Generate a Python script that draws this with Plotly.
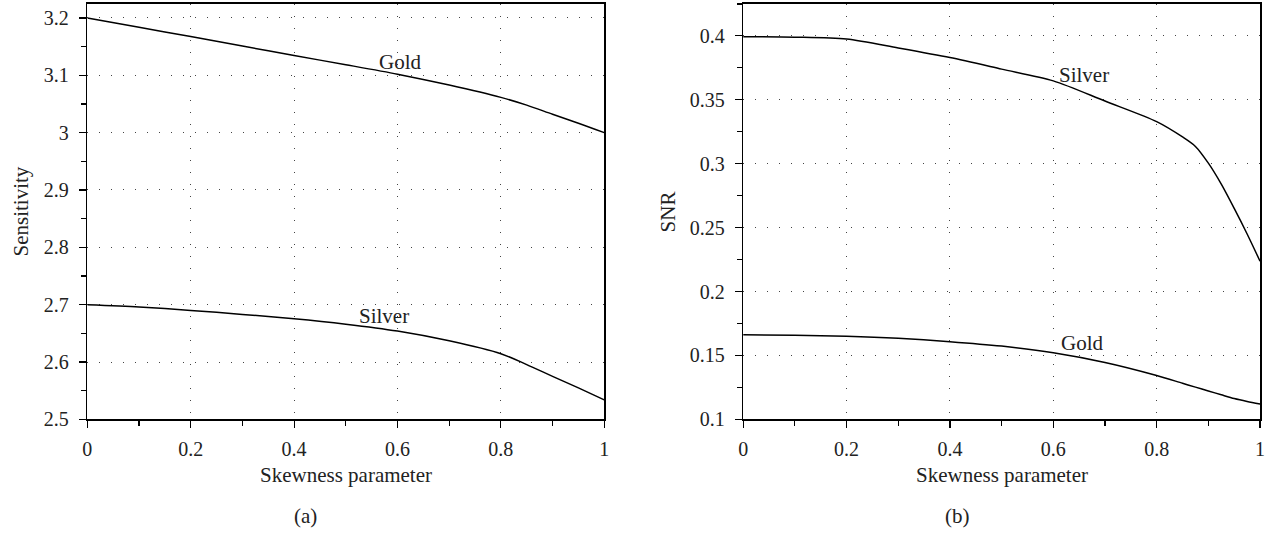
import plotly.graph_objects as go

# ---- data ----
skew = [0.0, 0.1, 0.2, 0.3, 0.4, 0.5, 0.6, 0.7, 0.8, 0.85, 0.9, 0.95, 1.0]
sens_gold = [3.200, 3.1838, 3.1675, 3.151, 3.1345, 3.1185, 3.102, 3.083, 3.0615, 3.048, 3.032, 3.0165, 3.000]
sens_silver = [2.700, 2.696, 2.690, 2.683, 2.6755, 2.666, 2.654, 2.637, 2.6145, 2.5955, 2.575, 2.5548, 2.534]

skew_b = [0.0, 0.1, 0.2, 0.3, 0.4, 0.5, 0.6, 0.7, 0.8, 0.85, 0.875, 0.9, 0.925, 0.95, 0.975, 1.0]
snr_silver = [0.3993, 0.3990, 0.3975, 0.3905, 0.383, 0.374, 0.3648, 0.349, 0.3329, 0.3209, 0.3135, 0.3004, 0.284, 0.265, 0.245, 0.2237]
snr_gold = [0.1662, 0.1658, 0.165, 0.1634, 0.1608, 0.1573, 0.1521, 0.1445, 0.1343, 0.1282, 0.1252, 0.1222, 0.1192, 0.1163, 0.1140, 0.112]

x_ticks = [0, 0.2, 0.4, 0.6, 0.8, 1]
x_tick_labels = ["0", "0.2", "0.4", "0.6", "0.8", "1"]
ya_ticks = [2.5, 2.6, 2.7, 2.8, 2.9, 3.0, 3.1, 3.2]
ya_tick_labels = ["2.5", "2.6", "2.7", "2.8", "2.9", "3", "3.1", "3.2"]
yb_ticks = [0.1, 0.15, 0.2, 0.25, 0.3, 0.35, 0.4]
yb_tick_labels = ["0.1", "0.15", "0.2", "0.25", "0.3", "0.35", "0.4"]

FONT = "Liberation Serif, Times New Roman, serif"
TXT = "#222"
W, H = 1272, 544

def px(x):
    return min(1.0, max(0.0, x / W))

def py(y):
    return min(1.0, max(0.0, 1 - y / H))

fig = go.Figure()
line = dict(color="black", width=1.5, shape="spline", smoothing=0.8)
fig.add_trace(go.Scatter(x=skew, y=sens_gold, mode="lines", line=line, xaxis="x", yaxis="y", showlegend=False))
fig.add_trace(go.Scatter(x=skew, y=sens_silver, mode="lines", line=line, xaxis="x", yaxis="y", showlegend=False))
fig.add_trace(go.Scatter(x=skew_b, y=snr_silver, mode="lines", line=line, xaxis="x2", yaxis="y2", showlegend=False))
fig.add_trace(go.Scatter(x=skew_b, y=snr_gold, mode="lines", line=line, xaxis="x2", yaxis="y2", showlegend=False))

y_dom = [py(428), py(4)]
common = dict(
    showline=True, linecolor="black", linewidth=1.5, mirror=True,
    ticks="outside", ticklen=7, tickwidth=1.2, tickcolor="black",
    showgrid=True, gridcolor="#444", gridwidth=1, griddash="1px,11px",
    zeroline=False, tickfont=dict(family=FONT, size=20, color=TXT),
)

def xaxis(dom, anchor):
    return dict(common, domain=dom, anchor=anchor, range=[0, 1],
                tickvals=x_ticks, ticktext=x_tick_labels, ticklabelstandoff=4,
                minor=dict(ticks="outside", ticklen=5, tickwidth=1.2, tickcolor="black", dtick=0.1, showgrid=False))

fig.update_layout(
    width=W, height=H,
    margin=dict(l=0, r=0, t=0, b=0),
    paper_bgcolor="white", plot_bgcolor="white",
    font=dict(family=FONT, size=20, color=TXT),
    xaxis=xaxis([px(83), px(604)], "y"),
    yaxis=dict(common, domain=y_dom, anchor="x", range=[2.5, 3.2245],
               tickvals=ya_ticks, ticktext=ya_tick_labels, ticklabelstandoff=6,
               minor=dict(ticks="outside", ticklen=5, tickwidth=1.2, tickcolor="black", dtick=0.05, showgrid=False)),
    xaxis2=xaxis([px(744), px(1265)], "y2"),
    yaxis2=dict(common, domain=y_dom, anchor="x2", range=[0.1, 0.425],
                tickvals=yb_ticks, ticktext=yb_tick_labels, ticklabelstandoff=6,
                minor=dict(ticks="outside", ticklen=5, tickwidth=1.2, tickcolor="black", dtick=0.025, showgrid=False)),
)

f = dict(family=FONT, size=21, color=TXT)
ann = []
ann.append(dict(x=0.605, y=3.1236, xref="x", yref="y", text="Gold", showarrow=False, font=f))
ann.append(dict(x=0.574, y=2.6795, xref="x", yref="y", text="Silver", showarrow=False, font=f))
ann.append(dict(x=0.660, y=0.369, xref="x2", yref="y2", text="Silver", showarrow=False, font=f))
ann.append(dict(x=0.656, y=0.1598, xref="x2", yref="y2", text="Gold", showarrow=False, font=f))

def paper(x, y, text, angle=0):
    return dict(x=px(x), y=py(y), xref="paper", yref="paper", text=text, showarrow=False,
                textangle=angle, xanchor="center", yanchor="middle", font=f)

ann.append(paper(343.5, 485, "Skewness parameter"))
ann.append(paper(1004.5, 485, "Skewness parameter"))
ann.append(paper(303, 527, "(a)"))
ann.append(paper(960, 527, "(b)"))
ann.append(paper(16, 216, "Sensitivity", -90))
ann.append(paper(668, 216, "SNR", -90))
fig.update_layout(annotations=ann)

fig.write_html(
    "out.html",
    config={"displayModeBar": False, "staticPlot": True},
    post_script="document.documentElement.style.margin='0';document.body.style.margin='0';"
                "document.documentElement.style.overflow='hidden';document.body.style.overflow='hidden';",
)
